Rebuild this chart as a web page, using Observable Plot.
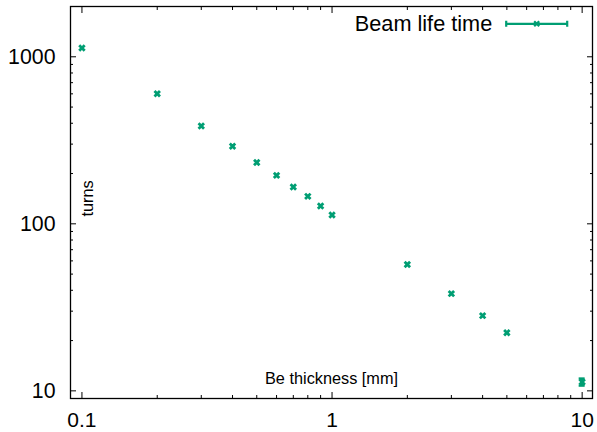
<!DOCTYPE html>
<html><head><meta charset="utf-8">
<script src="https://cdn.jsdelivr.net/npm/d3@7"></script>
<script src="https://cdn.jsdelivr.net/npm/@observablehq/plot@0.6"></script>
<style>body{margin:0;background:#fff}#chart{width:597px;height:432px}</style>
</head><body><div id="chart"></div>
<script>
// ---- data ----
const thickness = [0.1, 0.2, 0.3, 0.4, 0.5, 0.6, 0.7, 0.8, 0.9, 1, 2, 3, 4, 5, 10];
const turns     = [1130, 600, 385, 291, 233, 195, 166, 146, 128, 113, 57, 38.2, 28.2, 22.3, 11.3];
const turnsErr  = [0, 0, 0, 0, 0, 0, 0, 0, 0, 0, 0, 0, 0, 0, 0.55];
const xMajorTicks = [0.1, 1, 10];
const xMinorTicks = [0.2, 0.3, 0.4, 0.5, 0.6, 0.7, 0.8, 0.9, 2, 3, 4, 5, 6, 7, 8, 9];
const yMajorTicks = [10, 100, 1000];
const yMinorTicks = [20, 30, 40, 50, 60, 70, 80, 90, 200, 300, 400, 500, 600, 700, 800, 900];
const seriesLabel = "Beam life time";
const xLabel = "Be thickness [mm]";
const yLabel = "turns";

// ---- build ----
const data = thickness.map((x, i) => ({x, y: turns[i], err: turnsErr[i]}));
const errData = data.filter(d => d.err > 0);
const color = "#009e73";
const capFactor = 1.028;
const font = "'Liberation Sans', Arial, Helvetica, sans-serif";

const legendSymbol = {
  draw(context) {
    context.moveTo(-30.5, 0); context.lineTo(30.5, 0);
    context.moveTo(-30.5, -3); context.lineTo(-30.5, 3);
    context.moveTo(30.5, -3); context.lineTo(30.5, 3);
    context.moveTo(-2.5, -2.5); context.lineTo(2.5, 2.5);
    context.moveTo(-2.5, 2.5); context.lineTo(2.5, -2.5);
  }
};

const tickOnly = (fn, ticks, anchor, size) =>
  fn(ticks, {anchor, tickSize: -size, fill: "none", label: null, stroke: "black", strokeWidth: 1});

const chart = Plot.plot({
  width: 597,
  height: 432,
  marginLeft: 70,
  marginRight: 5,
  marginTop: 6,
  marginBottom: 34,
  style: {fontFamily: font, background: "#fff", color: "black", overflow: "visible"},
  x: {type: "log", domain: [0.09, 11]},
  y: {type: "log", domain: [9, 2000]},
  marks: [
    tickOnly(Plot.axisX, xMajorTicks, "bottom", 6),
    tickOnly(Plot.axisX, xMinorTicks, "bottom", 3),
    tickOnly(Plot.axisX, xMajorTicks, "top", 6),
    tickOnly(Plot.axisX, xMinorTicks, "top", 3),
    tickOnly(Plot.axisY, yMajorTicks, "left", 6),
    tickOnly(Plot.axisY, yMinorTicks, "left", 3),
    tickOnly(Plot.axisY, yMajorTicks, "right", 6),
    tickOnly(Plot.axisY, yMinorTicks, "right", 3),
    Plot.axisX(xMajorTicks, {anchor: "bottom", tickSize: 0, tickPadding: 13.5, tickFormat: d => String(d), fontSize: 21, label: null, fill: "black"}),
    Plot.axisY(yMajorTicks, {anchor: "left", tickSize: 0, tickPadding: 15, tickFormat: d => String(d), fontSize: 21.3, label: null, fill: "black"}),
    Plot.frame({stroke: "black", strokeWidth: 1.3}),
    Plot.ruleX(errData, {x: "x", y1: d => d.y - d.err, y2: d => d.y + d.err, stroke: color, strokeWidth: 2.4}),
    Plot.ruleY(errData, {y: d => d.y - d.err, x1: d => d.x / capFactor, x2: d => d.x * capFactor, stroke: color, strokeWidth: 2.4}),
    Plot.ruleY(errData, {y: d => d.y + d.err, x1: d => d.x / capFactor, x2: d => d.x * capFactor, stroke: color, strokeWidth: 2.4}),
    Plot.dot(data, {x: "x", y: "y", symbol: "times", r: 2.6, stroke: color, strokeWidth: 2.8}),
    Plot.text([xLabel], {text: d => d, frameAnchor: "bottom", lineAnchor: "bottom", dy: -14.4, fontSize: 16.3, fill: "black"}),
    Plot.text([yLabel], {text: d => d, frameAnchor: "left", lineAnchor: "bottom", rotate: -90, dx: 22, dy: 14, fontSize: 16.3, fill: "black"}),
    Plot.text([seriesLabel], {text: d => d, frameAnchor: "top-right", textAnchor: "end", lineAnchor: "bottom", dx: -100.3, dy: 24, fontSize: 21.7, fill: "black"}),
    Plot.dot([seriesLabel], {frameAnchor: "top-right", dx: -55.8, dy: 17.3, symbol: legendSymbol, stroke: color, strokeWidth: 2.2, fill: "none"})
  ]
});
document.getElementById("chart").appendChild(chart);
</script>
</body></html>
